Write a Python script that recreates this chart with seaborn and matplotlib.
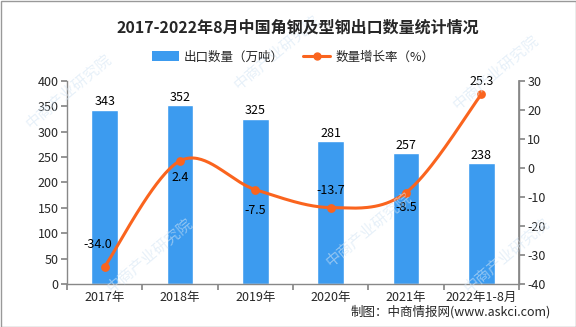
import numpy as np
import pandas as pd
import matplotlib
matplotlib.use("Agg")
import matplotlib.pyplot as plt
import seaborn as sns
from matplotlib.lines import Line2D
from matplotlib.patches import Patch, Rectangle

categories = ["2017年", "2018年", "2019年", "2020年", "2021年", "2022年1-8月"]
export_volume = [343, 352, 325, 281, 257, 238]
growth_rate = [-34.0, 2.4, -7.5, -13.7, -8.5, 25.3]
title = "2017-2022年8月中国角钢及型钢出口数量统计情况"
bar_label = "出口数量（万吨）"
line_label = "数量增长率（%）"
source = "制图：中商情报网(www.askci.com)"

sns.set_theme(style="white")
plt.rcParams['font.family'] = ['Noto Sans CJK SC', 'DejaVu Sans']
plt.rcParams['axes.unicode_minus'] = False

BLUE = "#3C9BEF"
ORANGE = "#FA641E"
GRAY = "#888888"

fig = plt.figure(figsize=(5.76, 3.27), dpi=100)
ax = fig.add_axes([67/576, 1-284/327, (519-67)/576, (284-80.7)/327])

df = pd.DataFrame({"cat": categories, "val": export_volume})
sns.barplot(data=df, x="cat", y="val", color=BLUE, width=0.35, ax=ax, saturation=1)
ax.set_xlim(-0.5, len(categories) - 0.5)
ax.set_ylim(0, 400)
ax.set_yticks(np.arange(0, 401, 50))
ax.set_xlabel("")
ax.set_ylabel("")

for i, v in enumerate(export_volume):
    ax.annotate(f"{v}", (i, v), xytext=(0, 1), textcoords="offset points",
                ha="center", va="bottom", fontsize=9, color="black")

# x ticks at category boundaries, labels at centers
ax.set_xticks(np.arange(-0.5, len(categories), 1.0))
ax.set_xticklabels([])
ax.set_xticks(np.arange(len(categories)), minor=True)
ax.set_xticklabels(categories, minor=True, fontsize=9)
ax.tick_params(axis="x", which="minor", length=0, pad=5)
ax.tick_params(axis="x", which="major", length=4, color=GRAY, direction="out", bottom=True)
ax.tick_params(axis="y", length=4, color=GRAY, direction="out", labelsize=9, left=True, pad=2)

ax.spines["top"].set_visible(False)
for s in ["left", "bottom", "right"]:
    ax.spines[s].set_color(GRAY)
    ax.spines[s].set_linewidth(1)

ax2 = ax.twinx()
ax2.set_ylim(-40, 30)
ax2.set_yticks(np.arange(-40, 31, 10))
ax2.tick_params(axis="y", length=4, color=GRAY, direction="out", labelsize=9, right=True, pad=2)
for s in ["top", "left", "bottom"]:
    ax2.spines[s].set_visible(False)
ax2.spines["right"].set_color(GRAY)

# smooth curve (Catmull-Rom style Bezier through the data points)
x = np.arange(len(growth_rate), dtype=float)
y = np.array(growth_rate, dtype=float)
xs, ys = [], []
t = np.linspace(0, 1, 40)
for i in range(len(x) - 1):
    p0 = np.array([x[max(i-1, 0)], y[max(i-1, 0)]])
    p1 = np.array([x[i], y[i]])
    p2 = np.array([x[i+1], y[i+1]])
    p3 = np.array([x[min(i+2, len(x)-1)], y[min(i+2, len(x)-1)]])
    c1 = p1 + (p2 - p0) / 6
    c2 = p2 - (p3 - p1) / 6
    pts = ((1-t)**3)[:, None]*p1 + (3*(1-t)**2*t)[:, None]*c1 + (3*(1-t)*t**2)[:, None]*c2 + (t**3)[:, None]*p2
    xs.extend(pts[:, 0]); ys.extend(pts[:, 1])
ax2.plot(xs, ys, color=ORANGE, lw=2.2, zorder=3)
sns.scatterplot(x=x, y=y, color=ORANGE, s=40, edgecolor=ORANGE, linewidth=0, ax=ax2, zorder=4)

offsets = [(-5, 16), (0, -12), (0, -15), (0, 12), (0, -11), (0, 9)]
for i, (v, off) in enumerate(zip(growth_rate, offsets)):
    ax2.annotate(f"{v:.1f}", (i, v), xytext=off, textcoords="offset points",
                 ha="center", va="center", fontsize=9, color="black", zorder=5)

# title, legend, source
fig.text(298/576, 1-28/327, title, ha="center", va="center", fontsize=11.5, fontweight="bold")
handles = [Patch(facecolor=BLUE, edgecolor="none", label=bar_label),
           Line2D([0], [0], color=ORANGE, lw=2.2, marker="o", markersize=5, label=line_label)]
fig.legend(handles=handles, loc="center", bbox_to_anchor=(293/576, 1-57/327), ncol=2,
           frameon=False, fontsize=9, handlelength=2.2, handleheight=0.8, columnspacing=1.5,
           handletextpad=0.4)
fig.text(551/576, 1-312/327, source, ha="right", va="center", fontsize=9)

# faint watermarks (kept inside the figure)
wm = "中商产业研究院"
for (wx, wy) in [(0.12, 0.72), (0.48, 0.84), (0.86, 0.78), (0.26, 0.22), (0.64, 0.3), (0.88, 0.22)]:
    fig.text(wx, wy, wm, rotation=40, fontsize=11, color="#d4e5f4", alpha=0.55,
             ha="center", va="center", zorder=0)

fig.add_artist(Rectangle((0.5/576, 0.5/327), 1-1/576, 1-1/327, transform=fig.transFigure,
                         fill=False, edgecolor="#999999", lw=1))

fig.savefig("out.png", dpi=100)
